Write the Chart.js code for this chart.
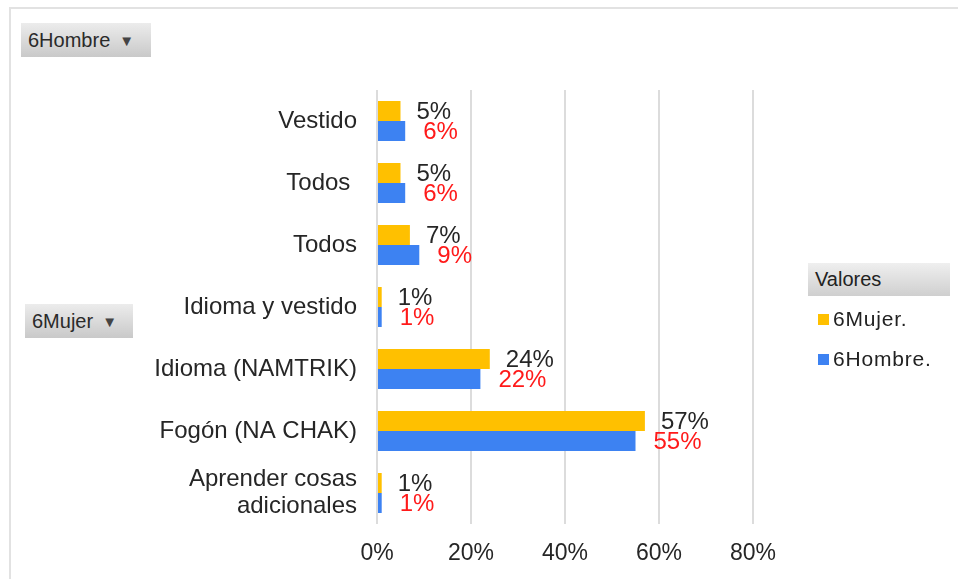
<!DOCTYPE html>
<html>
<head>
<meta charset="utf-8">
<script src="https://cdn.jsdelivr.net/npm/chart.js@4/dist/chart.umd.min.js"></script>
<style>
  html, body { margin: 0; padding: 0; background: #fff; }
  body { width: 958px; height: 579px; position: relative; overflow: hidden; font-family: "Liberation Sans", Arial, sans-serif; color: #222; }
  #frame { position: absolute; left: 9px; top: 7px; width: 1000px; height: 600px; border: 2px solid #e2e2e2; box-sizing: border-box; }
  #wrap { position: absolute; left: 0; top: 0; width: 958px; height: 579px; }
  .btn { position: absolute; background: linear-gradient(#ececec, #c9c9c9); font-size: 20px; line-height: 34px; padding-left: 7px; box-sizing: border-box; height: 34px; color: #2a2a2a; }
  .btn span { font-size: 15px; color: #444; margin-left: 9px; vertical-align: 1px; }
  #legend { position: absolute; left: 808px; top: 263px; width: 142px; }
  #legend .head { background: linear-gradient(#efefef, #cfcfcf); height: 33px; line-height: 33px; font-size: 20px; padding-left: 7px; }
  #legend .item { position: absolute; left: 10px; font-size: 21px; letter-spacing: 0.8px; white-space: nowrap; }
  #legend .item i { display: inline-block; width: 11px; height: 11px; margin-right: 4px; vertical-align: 1px; }
</style>
</head>
<body>
<div id="frame"></div>
<div id="wrap"><canvas id="chart" width="958" height="579"></canvas></div>
<div class="btn" style="left:21px; top:23px; width:130px;">6Hombre<span>▼</span></div>
<div class="btn" style="left:25px; top:304px; width:108px;">6Mujer<span>▼</span></div>
<div id="legend">
  <div class="head">Valores</div>
  <div class="item" style="top:44px;"><i style="background:#ffc000"></i>6Mujer.</div>
  <div class="item" style="top:84px;"><i style="background:#3d82f2"></i>6Hombre.</div>
</div>
<script>
// ===== DATA =====
const categories = [
  "Vestido",
  "Todos ",
  "Todos",
  "Idioma y vestido",
  "Idioma (NAMTRIK)",
  "Fogón (NA CHAK)",
  ["Aprender cosas", "adicionales"]
];
const mujer  = [5, 5, 7, 1, 24, 57, 1];
const hombre = [6, 6, 9, 1, 22, 55, 1];
const xTicks = [0, 20, 40, 60, 80];

const seriesNames  = ["6Mujer.", "6Hombre."];
const seriesColors = ["#ffc000", "#3d82f2"];
const labelColors  = ["#262626", "#ff1a1a"];

// ===== VALUE LABELS =====
const valueLabels = {
  id: "valueLabels",
  afterDatasetsDraw(chart) {
    const ctx = chart.ctx;
    ctx.save();
    ctx.font = "24px 'Liberation Sans', Arial, sans-serif";
    ctx.textAlign = "left";
    ctx.textBaseline = "middle";
    chart.data.datasets.forEach((ds, di) => {
      const meta = chart.getDatasetMeta(di);
      ctx.fillStyle = labelColors[di];
      meta.data.forEach((bar, i) => {
        ctx.fillText(ds.data[i] + "%", bar.x + 16 + di * 2, bar.y + 1);
      });
    });
    ctx.restore();
  }
};

new Chart(document.getElementById("chart"), {
  type: "bar",
  data: {
    labels: categories,
    datasets: [
      { label: seriesNames[0], data: mujer,  backgroundColor: seriesColors[0] },
      { label: seriesNames[1], data: hombre, backgroundColor: seriesColors[1] }
    ]
  },
  options: {
    indexAxis: "y",
    responsive: false,
    animation: false,
    barPercentage: 1,
    categoryPercentage: 0.645,
    layout: { padding: { top: 90, right: 205, bottom: 0, left: 0 } },
    plugins: {
      legend: { display: false },
      tooltip: { enabled: false }
    },
    scales: {
      x: {
        min: 0,
        max: 80,
        afterBuildTicks: s => { s.ticks = xTicks.map(v => ({ value: v })); },
        afterFit: s => { s.height = 55; },
        grid: { color: "#dcdcdc", lineWidth: 2, drawTicks: false },
        border: { display: false },
        ticks: {
          padding: 16,
          color: "#262626",
          font: { family: "'Liberation Sans', Arial, sans-serif", size: 23 },
          callback: v => v + "%"
        }
      },
      y: {
        afterFit: s => { s.width = 377; },
        grid: { display: false, drawTicks: false },
        border: { display: false },
        ticks: {
          padding: 20,
          color: "#262626",
          font: { family: "'Liberation Sans', Arial, sans-serif", size: 24, lineHeight: 1.12 }
        }
      }
    }
  },
  plugins: [valueLabels]
});
</script>
</body>
</html>
